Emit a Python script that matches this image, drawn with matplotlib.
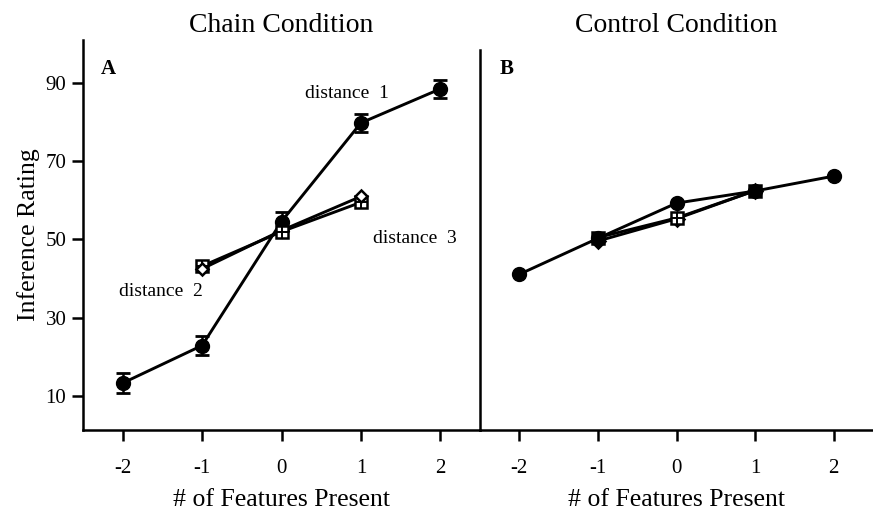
import numpy as np
import matplotlib
matplotlib.use("Agg")
import matplotlib.pyplot as plt

plt.rcParams['font.family'] = ['Liberation Serif', 'DejaVu Serif']

# x positions (# of features present)
x_d1 = [-2, -1, 0, 1, 2]
x_d23 = [-1, 0, 1]
x_ticks = [-2, -1, 0, 1, 2]
y_ticks = [10, 30, 50, 70, 90]

# chain condition
chain_d1 = [13.3, 22.9, 54.6, 79.8, 88.5]
chain_d1_err = [2.5, 2.5, 2.4, 2.4, 2.4]
chain_d2 = [42.5, 52.3, 61.0]
chain_d3 = [43.2, 52.0, 59.5]

# control condition
ctrl_d1 = [41.1, 50.3, 59.3, 62.4, 66.2]
ctrl_d2 = [49.6, 55.3, 62.5]
ctrl_d3 = [50.5, 55.5, 62.5]
ctrl_fill = ['black', 'white', 'black']

W, H = 873, 514
fig = plt.figure(figsize=(W / 100, H / 100), dpi=100)
left, right, mid = 83, 873, 480
top, bottom = 40, 430
axA = fig.add_axes([left / W, 1 - bottom / H, (mid - left) / W, (bottom - top) / H])
axB = fig.add_axes([mid / W, 1 - bottom / H, (right - mid) / W, (bottom - top) / H])

LW = 2.1
MS = 9


def square_cross(ax, x, y, faces, z):
    for xi, yi, fc in zip(x, y, faces):
        ax.plot(xi, yi, marker='s', ms=MS, mfc=fc, mec='black', mew=1.8,
                ls='none', zorder=z, clip_on=False)
        ax.plot(xi, yi, marker='+', ms=MS, mec='black', mew=1.4,
                ls='none', zorder=z + 0.1, clip_on=False)


def diamonds(ax, x, y, faces, zs, ms):
    for xi, yi, fc, z in zip(x, y, faces, zs):
        ax.plot(xi, yi, marker='D', ms=ms, mfc=fc, mec='black', mew=1.8,
                ls='none', zorder=z)


def style(ax, show_left):
    ax.set_xlim(-2.5, 2.5)
    ax.set_ylim(1.3, 101)
    ax.set_xticks(x_ticks)
    ax.set_xticklabels([str(t) for t in x_ticks])
    ax.tick_params(axis='both', direction='out', length=8, width=1.8,
                   labelsize=15, pad=13)
    for s in ['top', 'right']:
        ax.spines[s].set_visible(False)
    ax.spines['bottom'].set_linewidth(1.8)
    ax.spines['left'].set_linewidth(1.8)
    if show_left:
        ax.set_yticks(y_ticks)
        ax.tick_params(axis='y', pad=4)
    else:
        ax.spines['left'].set_bounds(1.3, 98.5)
        ax.set_yticks([])
    ax.set_xlabel('# of Features Present', fontsize=18.5, labelpad=8)
    ax.patch.set_visible(False)


# panel A
axA.plot(x_d1, chain_d1, color='black', lw=LW, zorder=2)
axA.plot(x_d23, chain_d2, color='black', lw=LW, zorder=2)
axA.plot(x_d23, chain_d3, color='black', lw=LW, zorder=2)
axA.errorbar(x_d1, chain_d1, yerr=chain_d1_err, fmt='o', color='black',
             ms=MS + 1, elinewidth=1.8, capsize=5, capthick=2, zorder=3)
square_cross(axA, x_d23, chain_d3, ['white'] * 3, 4)
diamonds(axA, x_d23, chain_d2, ['white'] * 3, [5, 3.5, 5], 6.5)
axA.text(0.3, 87.2, 'distance  1', fontsize=14, va='center')
axA.text(1.15, 50.3, 'distance  3', fontsize=14, va='center')
axA.text(-2.05, 36.7, 'distance  2', fontsize=14, va='center')
axA.text(-2.28, 93.5, 'A', fontsize=15, fontweight='bold', va='center')
axA.set_ylabel('Inference Rating', fontsize=18.5, labelpad=4)
axA.set_title('Chain Condition', fontsize=20, pad=6)
style(axA, True)

# panel B
axB.plot(x_d23, ctrl_d2, color='black', lw=LW, zorder=2)
axB.plot(x_d23, ctrl_d3, color='black', lw=LW, zorder=2)
axB.plot(x_d1, ctrl_d1, color='black', lw=LW, zorder=2)
axB.plot(x_d1, ctrl_d1, marker='o', ms=MS + 1, color='black', ls='none', zorder=3)
diamonds(axB, x_d23, ctrl_d2, ctrl_fill, [3.5, 3.5, 3.5], 7.5)
square_cross(axB, x_d23, ctrl_d3, ctrl_fill, 4)
axB.text(-2.25, 93.5, 'B', fontsize=15, fontweight='bold', va='center')
axB.set_title('Control Condition', fontsize=20, pad=6)
style(axB, False)

fig.savefig('out.png', dpi=100)
